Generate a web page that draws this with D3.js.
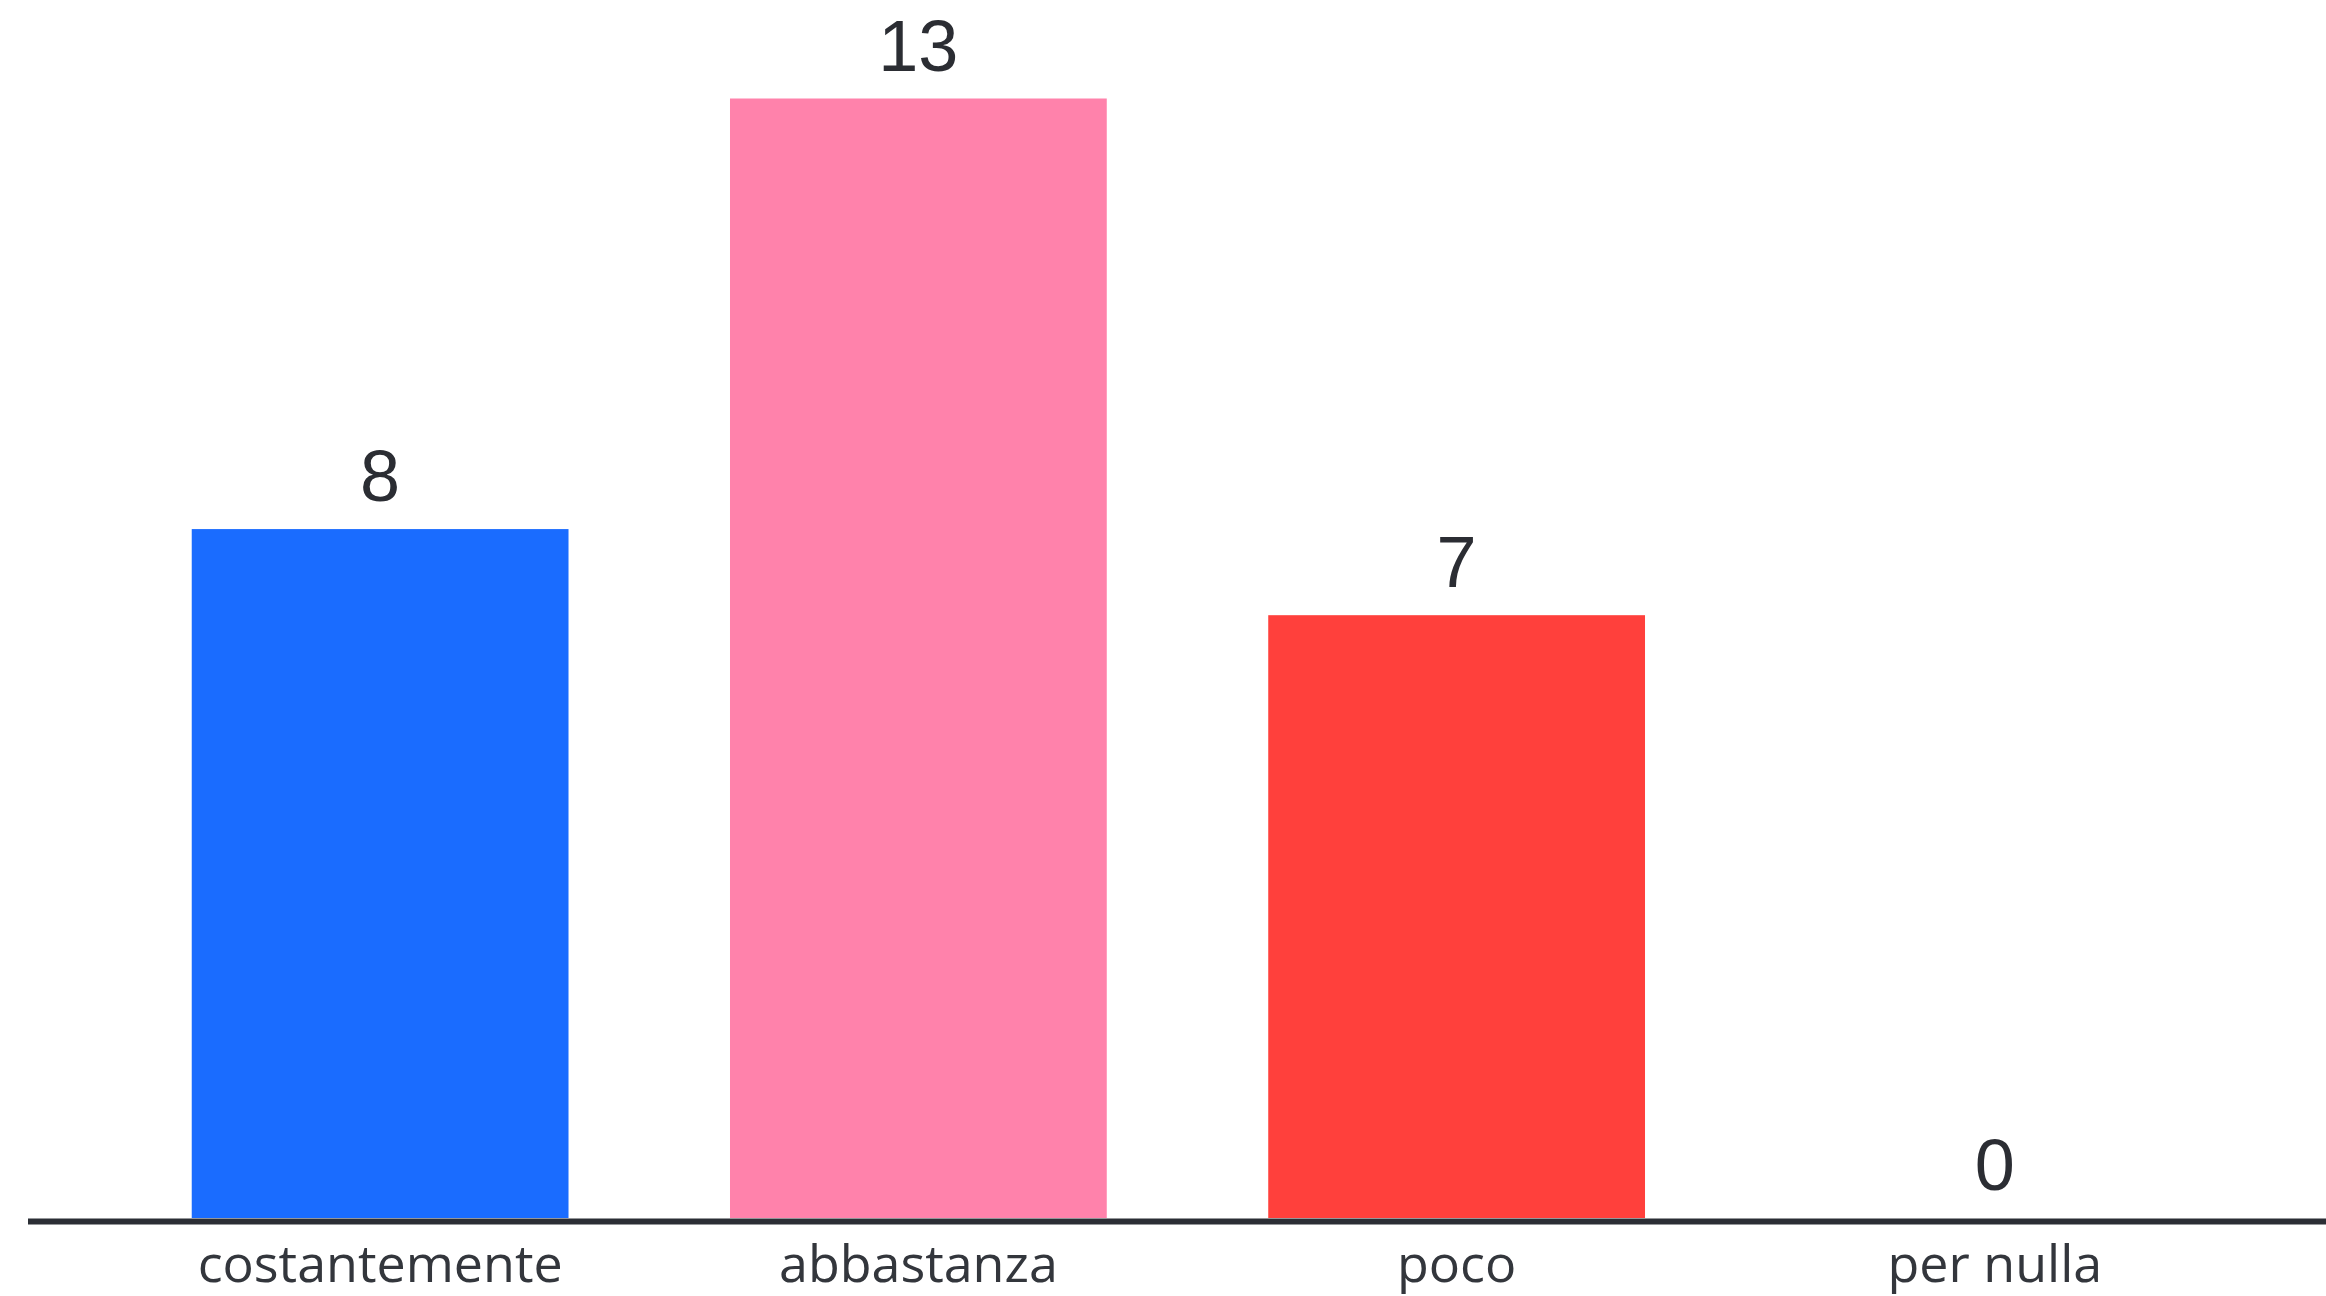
<!DOCTYPE html>
<html>
<head>
<meta charset="utf-8">
<script src="https://cdn.jsdelivr.net/npm/d3@7"></script>
<style>
  html, body { margin: 0; padding: 0; background: #ffffff; }
  svg { display: block; }
</style>
</head>
<body>
<svg id="chart" width="2326" height="1296"></svg>
<script>
const categories = ["costantemente", "abbastanza", "poco", "per nulla"];
const values = [8, 13, 7, 0];
const barColors = ["#1a6cff", "#ff82ab", "#ff403c", "#888888"];

const W = 2326, H = 1296;
const svg = d3.select("#chart");

const x = d3.scaleBand()
  .domain(categories)
  .range([111, 2264])
  .paddingInner(0.3)
  .paddingOuter(0.15);

const y = d3.scaleLinear()
  .domain([0, 13])
  .range([1218, 98.5]);

// bars
svg.append("g").selectAll("rect")
  .data(values)
  .join("rect")
  .attr("x", (d, i) => x(categories[i]))
  .attr("width", x.bandwidth())
  .attr("y", d => y(d))
  .attr("height", d => y(0) - y(d))
  .attr("fill", (d, i) => barColors[i]);

// value labels
svg.append("g").selectAll("text")
  .data(values)
  .join("text")
  .attr("x", (d, i) => x(categories[i]) + x.bandwidth() / 2)
  .attr("y", d => y(d) - 28)
  .attr("text-anchor", "middle")
  .attr("font-family", "'Liberation Sans', Arial, sans-serif")
  .attr("font-size", 72)
  .attr("fill", "#2b2d33")
  .text(d => d);

// baseline
svg.append("line")
  .attr("x1", 28).attr("x2", W)
  .attr("y1", y(0) + 3.5).attr("y2", y(0) + 3.5)
  .attr("stroke", "#2b2e35")
  .attr("stroke-width", 6);

// category axis
const axis = svg.append("g")
  .attr("transform", `translate(0, ${y(0)})`)
  .call(d3.axisBottom(x).tickSize(0).tickPadding(0));
axis.select(".domain").remove();
axis.selectAll("text")
  .attr("dy", null)
  .attr("y", 64)
  .attr("font-family", "'Open Sans', Lato, sans-serif")
  .attr("font-size", 52)
  .attr("fill", "#33363c");
</script>
</body>
</html>
